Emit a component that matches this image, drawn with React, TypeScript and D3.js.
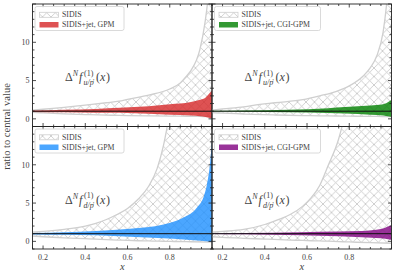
import React from "react";
import * as d3 from "d3";

// ---------- data ----------
const xTickLabels = ["0.2", "0.4", "0.6", "0.8"];
const xTickValues = [0.2, 0.4, 0.6, 0.8];
const yTickValues = [0, 5, 10];

// SIDIS bands (ratio to central value)
const sidisUgpmX = [0.15, 0.2, 0.3, 0.4, 0.5, 0.56, 0.6, 0.7, 0.8, 0.85, 0.88, 0.9, 0.943, 0.967, 0.98, 0.99, 1.0];
const sidisUgpmHi = [1.15, 1.25, 1.5, 1.8, 2.1, 2.3, 2.55, 3.1, 3.9, 4.7, 5.6, 6.3, 9.1, 12.6, 15.5, 19, 24];
const sidisUgpmLo = [0.85, 0.78, 0.66, 0.56, 0.48, 0.45, 0.43, 0.39, 0.36, 0.35, 0.34, 0.33, 0.31, 0.3, 0.29, 0.28, 0.27];

const sidisUcgiX = [0.15, 0.2, 0.3, 0.345, 0.45, 0.58, 0.66, 0.74, 0.8, 0.866, 0.9, 0.93, 0.96, 0.977, 0.99, 1.0];
const sidisUcgiHi = [1.15, 1.3, 1.55, 1.75, 2.1, 2.5, 3.0, 3.6, 4.3, 5.6, 6.7, 8.2, 11.3, 15, 19, 24];
const sidisUcgiLo = [0.8, 0.74, 0.63, 0.58, 0.5, 0.43, 0.4, 0.37, 0.35, 0.33, 0.32, 0.31, 0.3, 0.29, 0.28, 0.27];

const sidisDgpmX = [0.15, 0.2, 0.3, 0.4, 0.45, 0.5, 0.55, 0.6, 0.65, 0.7, 0.74, 0.77, 0.79, 0.82, 0.9, 1.0];
const sidisDgpmHi = [1.2, 1.3, 1.57, 2.0, 2.35, 2.85, 3.5, 4.3, 5.5, 7.2, 9.5, 12.5, 15.3, 20, 30, 40];
const sidisDgpmLo = [0.7, 0.6, 0.45, 0.35, 0.29, 0.22, 0.17, 0.12, 0.08, 0.05, 0.03, 0.01, 0.0, -0.02, -0.05, -0.1];

const sidisDcgiX = [0.15, 0.2, 0.3, 0.4, 0.47, 0.52, 0.58, 0.62, 0.66, 0.7, 0.75, 0.77, 0.8, 0.9, 1.0];
const sidisDcgiHi = [1.2, 1.3, 1.55, 2.2, 2.9, 3.5, 4.6, 5.7, 7.3, 9.9, 13.4, 15.5, 20, 30, 40];
const sidisDcgiLo = [0.6, 0.52, 0.4, 0.3, 0.22, 0.17, 0.12, 0.08, 0.05, 0.02, -0.03, -0.05, -0.08, -0.18, -0.25];

// SIDIS+jet bands
const redX = [0.15, 0.3, 0.45, 0.564, 0.7, 0.8, 0.9, 0.943, 0.97, 0.99, 1.0];
const redHi = [1.1, 1.2, 1.3, 1.45, 1.65, 1.9, 2.2, 2.5, 2.8, 3.4, 3.7];
const redLo = [0.9, 0.85, 0.8, 0.78, 0.65, 0.55, 0.45, 0.35, 0.25, 0.12, 0.05];

const greenX = [0.15, 0.3, 0.51, 0.7, 0.78, 0.9, 0.96, 0.99, 1.0];
const greenHi = [1.05, 1.08, 1.2, 1.4, 1.55, 1.75, 1.9, 2.3, 2.5];
const greenLo = [0.95, 0.92, 0.85, 0.75, 0.7, 0.55, 0.45, 0.3, 0.25];

const blueX = [0.15, 0.3, 0.45, 0.612, 0.77, 0.865, 0.928, 0.96, 0.975, 0.99, 1.0];
const blueHi = [1.1, 1.2, 1.35, 1.65, 2.2, 3.1, 4.4, 5.8, 7.3, 10, 13.2];
const blueLo = [0.9, 0.85, 0.8, 0.6, 0.4, 0.25, 0.1, 0.05, 0.0, -0.05, -0.1];

const purpleX = [0.15, 0.3, 0.57, 0.75, 0.86, 0.95, 0.99, 1.0];
const purpleHi = [1.04, 1.08, 1.2, 1.28, 1.35, 1.6, 2.0, 2.1];
const purpleLo = [0.96, 0.92, 0.8, 0.68, 0.55, 0.4, 0.25, 0.2];

const legendLabels = ["SIDIS+jet, GPM", "SIDIS+jet, CGI-GPM", "SIDIS+jet, GPM", "SIDIS+jet, CGI-GPM"];
const flavours = ["u", "u", "d", "d"];
const bandColors = ["#d62728", "#008000", "#1e90ff", "#800080"];

// ---------- layout ----------
const W = 397, H = 277;
const left = 32.5, pw = 179.5, top = 4, ph = 122.5;
const FONT = "'Liberation Serif', 'DejaVu Serif', serif";

type Band = { x: number[]; hi: number[]; lo: number[] };
const sidisBands: Band[] = [
  { x: sidisUgpmX, hi: sidisUgpmHi, lo: sidisUgpmLo },
  { x: sidisUcgiX, hi: sidisUcgiHi, lo: sidisUcgiLo },
  { x: sidisDgpmX, hi: sidisDgpmHi, lo: sidisDgpmLo },
  { x: sidisDcgiX, hi: sidisDcgiHi, lo: sidisDcgiLo },
];
const jetBands: Band[] = [
  { x: redX, hi: redHi, lo: redLo },
  { x: greenX, hi: greenHi, lo: greenLo },
  { x: blueX, hi: blueHi, lo: blueLo },
  { x: purpleX, hi: purpleHi, lo: purpleLo },
];

function Panel({ idx }: { idx: number }) {
  const col = idx % 2, row = Math.floor(idx / 2);
  const x0 = left + col * pw, y0 = top + row * ph;
  const xs = d3.scaleLinear().domain([0.15, 1.0]).range([x0, x0 + pw]);
  const ys = d3.scaleLinear().domain([-1, 15]).range([y0 + ph, y0]);
  const mk = (b: Band) =>
    d3.area<number>()
      .x((_, i) => xs(b.x[i]))
      .y0((_, i) => ys(b.lo[i]))
      .y1((_, i) => ys(b.hi[i]))
      .curve(d3.curveMonotoneX)(b.x) || "";
  const line = (b: Band, key: "hi" | "lo") =>
    d3.line<number>()
      .x((_, i) => xs(b.x[i]))
      .y((_, i) => ys(b[key][i]))
      .curve(d3.curveMonotoneX)(b.x) || "";
  const sb = sidisBands[idx], jb = jetBands[idx];
  const clipId = `clip${idx}`;
  const xMinor = d3.range(0.15, 1.0001, 0.05);
  const yMinor = d3.range(-1, 15.001, 1);
  const maj = 3.5, mino = 2;
  const tickColor = "#222";
  const legW = col === 0 ? 89 : 106;
  const fl = flavours[idx];
  const ax = x0 + 32.5, ay = y0 + 77;
  return (
    <g>
      <defs>
        <clipPath id={clipId}>
          <rect x={x0} y={y0} width={pw} height={ph} />
        </clipPath>
      </defs>
      <g clipPath={`url(#${clipId})`}>
        <path d={mk(sb)} fill="url(#hatch)" stroke="none" />
        <path d={line(sb, "hi")} fill="none" stroke="#cfcfcf" strokeWidth={1.3} />
        <path d={line(sb, "lo")} fill="none" stroke="#cfcfcf" strokeWidth={1.3} />
        <path d={mk(jb)} fill={bandColors[idx]} fillOpacity={0.8} stroke="none" />
        <line x1={x0} x2={x0 + pw} y1={ys(1)} y2={ys(1)} stroke="#111" strokeWidth={1} />
      </g>
      {xMinor.map((v, i) => {
        const isMaj = xTickValues.some((t) => Math.abs(t - v) < 1e-6);
        const L = isMaj ? maj : mino;
        return (
          <g key={"xt" + i}>
            <line x1={xs(v)} x2={xs(v)} y1={y0 + ph} y2={y0 + ph - L} stroke={tickColor} strokeWidth={0.8} />
            <line x1={xs(v)} x2={xs(v)} y1={y0} y2={y0 + L} stroke={tickColor} strokeWidth={0.8} />
          </g>
        );
      })}
      {yMinor.map((v, i) => {
        const isMaj = v % 5 === 0;
        const L = isMaj ? maj : mino;
        return (
          <g key={"yt" + i}>
            <line x1={x0} x2={x0 + L} y1={ys(v)} y2={ys(v)} stroke={tickColor} strokeWidth={0.8} />
            <line x1={x0 + pw} x2={x0 + pw - L} y1={ys(v)} y2={ys(v)} stroke={tickColor} strokeWidth={0.8} />
          </g>
        );
      })}
      <rect x={x0} y={y0} width={pw} height={ph} fill="none" stroke="#222" strokeWidth={0.9} />
      {col === 0 &&
        yTickValues.map((v) => (
          <text key={"yl" + v} x={x0 - 3} y={ys(v) + 2.8} fontSize={8} textAnchor="end" fill="#444" fontFamily={FONT}>
            {v}
          </text>
        ))}
      {row === 1 &&
        xTickValues.map((v, i) => (
          <text key={"xl" + i} x={xs(v)} y={y0 + ph + 10.5} fontSize={8} textAnchor="middle" fill="#444" fontFamily={FONT}>
            {xTickLabels[i]}
          </text>
        ))}
      {row === 1 && (
        <text x={x0 + pw / 2} y={y0 + ph + 20.5} fontSize={10.5} fontStyle="italic" textAnchor="middle" fill="#444" fontFamily={FONT}>
          x
        </text>
      )}
      <rect x={x0 + 2.5} y={y0 + 2.5} width={legW} height={24} rx={2} fill="#fff" fillOpacity={0.85} stroke="#d0d0d0" strokeWidth={0.8} />
      <rect x={x0 + 7} y={y0 + 8.3} width={19} height={5} fill="url(#hatch)" stroke="#cfcfcf" strokeWidth={0.8} />
      <text x={x0 + 29.5} y={y0 + 13.2} fontSize={7.8} fill="#444" fontFamily={FONT}>SIDIS</text>
      <rect x={x0 + 7} y={y0 + 18} width={19} height={5.5} fill={bandColors[idx]} fillOpacity={0.8} />
      <text x={x0 + 29.5} y={y0 + 23.4} fontSize={7.8} fill="#444" fontFamily={FONT}>{legendLabels[idx]}</text>
      <g fill="#444" fontFamily={FONT}>
        <text x={ax} y={ay} fontSize={12}>Δ</text>
        <text x={ax + 7.8} y={ay - 5} fontSize={8} fontStyle="italic">N</text>
        <text x={ax + 14} y={ay} fontSize={12} fontStyle="italic">f</text>
        <text x={ax + 19} y={ay - 5.5} fontSize={8}>(1)</text>
        <text x={ax + 18.5} y={ay + 4} fontSize={8} fontStyle="italic">{fl}/p</text>
        <text x={ax + 27.2} y={ay + 1} fontSize={5.5}>↑</text>
        <text x={ax + 31} y={ay} fontSize={12}>(</text>
        <text x={ax + 35} y={ay} fontSize={12} fontStyle="italic">x</text>
        <text x={ax + 41} y={ay} fontSize={12}>)</text>
      </g>
    </g>
  );
}

export default function App() {
  return (
    <svg width={W} height={H} style={{ position: "absolute", left: 0, top: 0, background: "#fff" }}>
      <defs>
        <pattern id="hatch" patternUnits="userSpaceOnUse" width={8.5} height={8.5}>
          <path d="M0,0 L8.5,8.5 M8.5,0 L0,8.5" stroke="#c4c4c4" strokeWidth={0.8} />
        </pattern>
      </defs>
      <rect x={0} y={0} width={W} height={H} fill="#fff" />
      {[0, 1, 2, 3].map((i) => (
        <Panel key={i} idx={i} />
      ))}
      <text
        transform={`translate(10, ${top + ph})rotate(-90)`}
        fontSize={10.5}
        textAnchor="middle"
        fill="#444"
        fontFamily={FONT}
      >
        ratio to central value
      </text>
    </svg>
  );
}
